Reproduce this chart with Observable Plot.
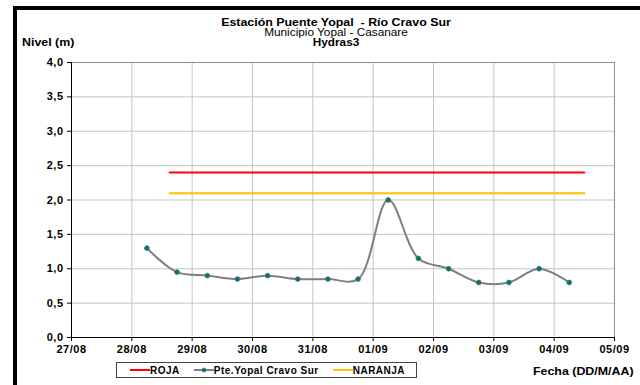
<!DOCTYPE html>
<html>
<head>
<meta charset="utf-8">
<script src="https://cdn.jsdelivr.net/npm/d3@7"></script>
<script src="https://cdn.jsdelivr.net/npm/@observablehq/plot@0.6"></script>
<style>
  html, body { margin: 0; padding: 0; background: #fff; }
  #wrap { position: relative; width: 640px; height: 385px; overflow: hidden; font-family: "Liberation Sans", Arial, sans-serif; }
  #chart { position: absolute; left: 0; top: 0; }
  #chart svg text { font-weight: bold !important; letter-spacing: 0.5px; }
  .abs { position: absolute; white-space: nowrap; color: #000; font-size: 10px; line-height: 10px; }
  .frame { position: absolute; left: 13px; top: 6px; width: 640px; height: 400px; border-top: 4px solid #000; border-left: 4px solid #000; box-sizing: border-box; }
  .t { left: 136px; width: 400px; text-align: center; transform-origin: 200px 0; }
  #legend { position: absolute; left: 116px; top: 362px; width: 301px; height: 16px; border: 1px solid #444; box-sizing: border-box; font-size: 10px; font-weight: bold; letter-spacing: 0.5px; display: flex; align-items: center; }
  #legend .it { display: flex; align-items: center; }
</style>
</head>
<body>
<div id="wrap">
  <div id="chart"></div>
  <div class="frame"></div>
  <div class="abs t" style="top:18px;font-weight:bold;transform:scaleX(1.24);">Estación Puente Yopal&nbsp; - Río Cravo Sur</div>
  <div class="abs t" style="top:28px;transform:scaleX(1.18);">Municipio Yopal - Casanare</div>
  <div class="abs t" style="top:38px;font-weight:bold;transform:scaleX(1.18);">Hydras3</div>
  <div class="abs" style="left:22px;top:38px;font-weight:bold;transform:scaleX(1.24);transform-origin:0 0;">Nivel (m)</div>
  <div class="abs" style="left:533px;top:367px;font-weight:bold;transform:scaleX(1.24);transform-origin:0 0;">Fecha (DD/M/AA)</div>
  <div id="legend"></div>
</div>
<script>
// Series: Pte.Yopal Cravo Sur (level in m), every 12 h
const fechas = [
  "2012-08-28T06:00Z", "2012-08-28T18:00Z", "2012-08-29T06:00Z", "2012-08-29T18:00Z",
  "2012-08-30T06:00Z", "2012-08-30T18:00Z", "2012-08-31T06:00Z", "2012-08-31T18:00Z",
  "2012-09-01T06:00Z", "2012-09-01T18:00Z", "2012-09-02T06:00Z", "2012-09-02T18:00Z",
  "2012-09-03T06:00Z", "2012-09-03T18:00Z", "2012-09-04T06:00Z"
];
const niveles = [1.30, 0.95, 0.90, 0.85, 0.90, 0.85, 0.85, 0.85, 2.00, 1.15, 1.00, 0.80, 0.80, 1.00, 0.80];

// Alert thresholds
const umbralFechas = ["2012-08-28T15:00Z", "2012-09-04T12:00Z"];
const roja = [2.4, 2.4];
const naranja = [2.1, 2.1];

// Axis ticks
const xDomain = ["2012-08-27T00:00Z", "2012-09-05T00:00Z"];
const yTicks = [0, 0.5, 1, 1.5, 2, 2.5, 3, 3.5, 4];

const serie = fechas.map((f, i) => ({ x: new Date(f), y: niveles[i] }));
const rojaData = umbralFechas.map((f, i) => ({ x: new Date(f), y: roja[i] }));
const naranjaData = umbralFechas.map((f, i) => ({ x: new Date(f), y: naranja[i] }));
const x0 = new Date(xDomain[0]);
const dayTicks = d3.utcDay.range(new Date(xDomain[0]), d3.utcDay.offset(new Date(xDomain[1]), 1));

const chart = Plot.plot({
  width: 640,
  height: 385,
  marginLeft: 71,
  marginRight: 26,
  marginTop: 62,
  marginBottom: 48,
  style: { fontFamily: "Liberation Sans, Arial, sans-serif", fontSize: "11px", background: "transparent", color: "#000" },
  x: { type: "utc", domain: xDomain.map(d => new Date(d)) },
  y: { domain: [0, 4] },
  marks: [
    Plot.gridX(dayTicks, { stroke: "#c4c4c4", strokeOpacity: 1 }),
    Plot.gridY(yTicks, { stroke: "#c4c4c4", strokeOpacity: 1 }),
    Plot.frame({ stroke: "#8c8c8c" }),
    Plot.axisX(dayTicks, {
      tickFormat: d3.utcFormat("%d/%m"), tickSize: 4, tickPadding: 4, label: null, fontSize: 11, fontWeight: "bold"
    }),
    Plot.axisY(yTicks, {
      tickFormat: d => d.toFixed(1).replace(".", ","), tickSize: 4, tickPadding: 4, label: null, fontSize: 11, fontWeight: "bold"
    }),
    Plot.ruleY([0], { stroke: "#000" }),
    Plot.ruleX([x0], { stroke: "#000" }),
    Plot.line(rojaData, { x: "x", y: "y", stroke: "#ff0000", strokeWidth: 2 }),
    Plot.line(naranjaData, { x: "x", y: "y", stroke: "#ffc000", strokeWidth: 2 }),
    Plot.line(serie, { x: "x", y: "y", curve: "catmull-rom", stroke: "#7f7f7f", strokeWidth: 2 }),
    Plot.dot(serie, { x: "x", y: "y", r: 2.4, fill: "#107a30", stroke: "#3a70c8", strokeWidth: 0.8 })
  ]
});
document.getElementById("chart").appendChild(chart);

// Legend
const items = [
  { name: "ROJA", color: "#ff0000", dot: false, pad: 13 },
  { name: "Pte.Yopal Cravo Sur", color: "#7f7f7f", dot: true, pad: 14 },
  { name: "NARANJA", color: "#ffc000", dot: false, pad: 14 }
];
const leg = document.getElementById("legend");
items.forEach(it => {
  const span = document.createElement("span");
  span.className = "it";
  span.style.marginLeft = it.pad + "px";
  const dotSvg = it.dot ? `<circle cx="10" cy="4" r="2" fill="#107a30" stroke="#3a70c8" stroke-width="0.8"/>` : "";
  span.innerHTML = `<svg width="20" height="8"><line x1="0" x2="20" y1="4" y2="4" stroke="${it.color}" stroke-width="2"/>${dotSvg}</svg>${it.name}`;
  leg.appendChild(span);
});
</script>
</body>
</html>
